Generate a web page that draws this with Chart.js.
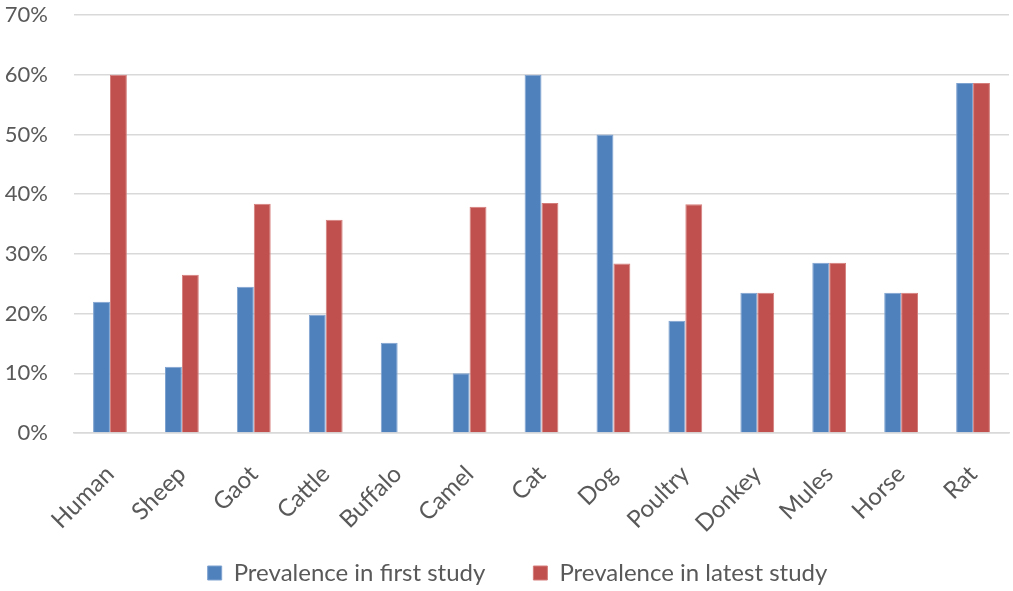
<!DOCTYPE html>
<html>
<head>
<meta charset="utf-8">
<script src="https://cdn.jsdelivr.net/npm/chart.js@4.4.1/dist/chart.umd.min.js"></script>
<style>
  html, body { margin: 0; padding: 0; background: #fff; }
  #wrap { width: 1013px; height: 591px; }
</style>
</head>
<body>
<div id="wrap"><canvas id="myChart"></canvas></div>
<script>
// categories and values (percent)
const animals = ['Human', 'Sheep', 'Gaot', 'Cattle', 'Buffalo', 'Camel', 'Cat', 'Dog', 'Poultry', 'Donkey', 'Mules', 'Horse', 'Rat'];
const firstStudy = [22.0, 11.1, 24.5, 19.8, 15.1, 10.0, 60.0, 50.0, 18.8, 23.5, 28.5, 23.5, 58.6];
const latestStudy = [60.0, 26.5, 38.4, 35.7, null, 37.9, 38.5, 28.4, 38.3, 23.5, 28.5, 23.5, 58.6];
const yTicks = [0, 10, 20, 30, 40, 50, 60, 70];

const font = 'Lato, "Liberation Sans", sans-serif';
const grey = '#595959';

// legend sits a bit lower and right of where chart.js puts it
const legendNudge = {
    id: 'legendNudge',
    afterLayout: function (chart) {
        const lg = chart.legend;
        if (!lg) return;
        lg.top -= 36;
        lg.bottom -= 36;
        lg.left += 13;
        lg.right += 13;
    }
};

var ctx = document.getElementById('myChart').getContext('2d');
var myChart = new Chart(ctx, {
    type: 'bar',
    data: {
        labels: animals,
        datasets: [{
            label: 'Prevalence in first study',
            data: firstStudy,
            backgroundColor: '#4F81BD',
            borderColor: '#7FA3D0',
            borderWidth: 1
        }, {
            label: 'Prevalence in latest study',
            data: latestStudy,
            backgroundColor: '#C0504D',
            borderColor: '#D47E7C',
            borderWidth: 1
        }]
    },
    plugins: [legendNudge],
    options: {
        responsive: true,
        maintainAspectRatio: false,
        animation: false,
        devicePixelRatio: 1,
        layout: {
            padding: { top: 0, right: 4, left: 0, bottom: -40 }
        },
        datasets: {
            bar: { barPercentage: 1, categoryPercentage: 0.47 }
        },
        plugins: {
            tooltip: { enabled: false },
            legend: {
                position: 'bottom',
                labels: {
                    boxWidth: 14,
                    boxHeight: 14,
                    padding: 48,
                    color: grey,
                    font: { family: font, size: 24 }
                }
            }
        },
        scales: {
            x: {
                grid: { display: false },
                border: { display: true, color: '#D9D9D9', width: 1.5 },
                afterFit: function (scale) { scale.height = 116; },
                ticks: {
                    color: grey,
                    font: { family: font, size: 24 },
                    maxRotation: 45,
                    minRotation: 45,
                    padding: 19
                }
            },
            y: {
                min: 0,
                max: 70,
                afterFit: function (scale) {
                    scale.width = 74;
                    scale.paddingTop = 15;
                    scale.paddingBottom = 12;
                },
                afterBuildTicks: function (scale) {
                    scale.ticks = yTicks.map(function (v) { return { value: v }; });
                },
                grid: { color: '#D9D9D9', lineWidth: 1.5, drawTicks: false },
                border: { display: false },
                ticks: {
                    color: grey,
                    font: { family: font, size: 22 },
                    padding: 26,
                    callback: function (v) { return v + '%'; }
                }
            }
        }
    }
});
</script>
</body>
</html>
